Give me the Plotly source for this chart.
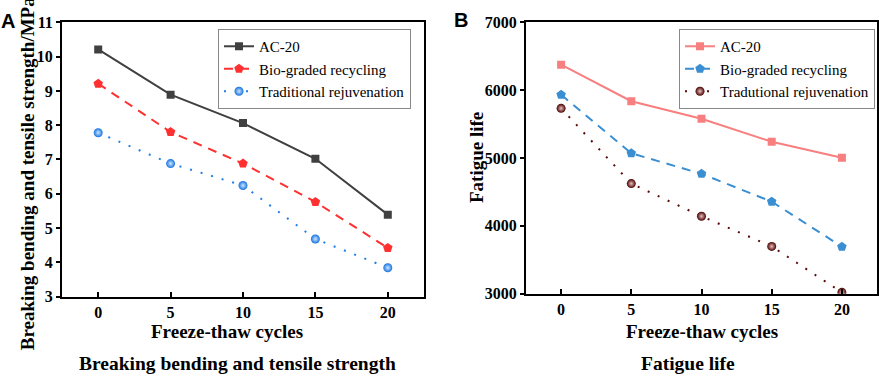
import plotly.graph_objects as go

cycles = [0, 5, 10, 15, 20]
series_names_a = ["AC-20", "Bio-graded recycling", "Traditional rejuvenation"]
series_names_b = ["AC-20", "Bio-graded recycling", "Tradutional rejuvenation"]

strength_ac20 = [10.21, 8.89, 8.06, 7.02, 5.39]
strength_bio = [9.21, 7.80, 6.88, 5.76, 4.42]
strength_trad = [7.78, 6.88, 6.24, 4.68, 3.84]

fatigue_ac20 = [6375, 5837, 5578, 5240, 5003]
fatigue_bio = [5932, 5070, 4767, 4357, 3693]
fatigue_trad = [5732, 4623, 4142, 3697, 3020]

x_ticks = [0, 5, 10, 15, 20]
y_ticks_a = [3, 4, 5, 6, 7, 8, 9, 10, 11]
y_ticks_b = [3000, 4000, 5000, 6000, 7000]

W, H = 879, 382
def px(x):
    return x / W
def py(y):
    return 1 - y / H

SERIF = "Liberation Serif, Times New Roman, serif"
fig = go.Figure()

# Panel A
fig.add_trace(go.Scatter(x=cycles, y=strength_ac20, name=series_names_a[0], mode="lines+markers",
                         line=dict(color="#404040", width=2),
                         marker=dict(symbol="square", size=8, color="#404040"),
                         xaxis="x", yaxis="y", legend="legend"))
fig.add_trace(go.Scatter(x=cycles, y=strength_bio, name=series_names_a[1], mode="lines+markers",
                         line=dict(color="#ff3030", width=2, dash="9px,7px"),
                         marker=dict(symbol="pentagon", size=10, color="#ff3030"),
                         xaxis="x", yaxis="y", legend="legend"))
fig.add_trace(go.Scatter(x=cycles, y=strength_trad, name=series_names_a[2], mode="lines+markers",
                         line=dict(color="#1f7fe8", width=2, dash="2px,9px"),
                         marker=dict(symbol="circle", size=9, color="#1572e0",
                                     gradient=dict(type="radial", color="#cfe6ff")),
                         xaxis="x", yaxis="y", legend="legend"))

# Panel B
fig.add_trace(go.Scatter(x=cycles, y=fatigue_ac20, name=series_names_b[0], mode="lines+markers",
                         line=dict(color="#f87f7f", width=2),
                         marker=dict(symbol="square", size=8, color="#f87f7f"),
                         xaxis="x2", yaxis="y2", legend="legend2"))
fig.add_trace(go.Scatter(x=cycles, y=fatigue_bio, name=series_names_b[1], mode="lines+markers",
                         line=dict(color="#3a8ed2", width=2, dash="9px,7px"),
                         marker=dict(symbol="pentagon", size=10, color="#3a8ed2"),
                         xaxis="x2", yaxis="y2", legend="legend2"))
fig.add_trace(go.Scatter(x=cycles, y=fatigue_trad, name=series_names_b[2], mode="lines+markers",
                         line=dict(color="#5a0a0a", width=2, dash="2px,9px"),
                         marker=dict(symbol="circle", size=9, color="#4a0000",
                                     gradient=dict(type="radial", color="#e8c0c0")),
                         xaxis="x2", yaxis="y2", legend="legend2"))

tickfont = dict(family=SERIF, size=16, color="black")
xcommon = dict(range=[-2.5, 22.5], tickvals=x_ticks, ticktext=[f"<b>{v}</b>" for v in x_ticks],
               ticks="inside", ticklen=5, tickwidth=2,
               tickcolor="black", showline=True, linecolor="black", linewidth=2, mirror=True,
               showgrid=False, zeroline=False, tickfont=tickfont)
ycommon = dict(ticks="outside", ticklen=4, tickwidth=2, tickcolor="black", showline=True,
               linecolor="black", linewidth=2, mirror=True, showgrid=False, zeroline=False,
               tickfont=tickfont)

legcommon = dict(bgcolor="white", bordercolor="#888888", borderwidth=1,
                 font=dict(family=SERIF, size=15, color="black"),
                 xanchor="left", yanchor="top", tracegroupgap=0, itemwidth=30)

fig.update_layout(
    width=W, height=H, autosize=False,
    font=dict(family=SERIF, color="black"),
    margin=dict(l=0, r=0, t=0, b=0),
    paper_bgcolor="white", plot_bgcolor="white",
    xaxis=dict(domain=[px(62), px(424)], anchor="y", **xcommon),
    yaxis=dict(domain=[py(302), py(15)], anchor="x", range=[3, 11],
               tickvals=y_ticks_a, ticktext=[f"<b>{v}</b>" for v in y_ticks_a], **ycommon),
    xaxis2=dict(domain=[px(526), px(877)], anchor="y2", **xcommon),
    yaxis2=dict(domain=[py(299), py(15)], anchor="x2", range=[3000, 7000],
                tickvals=y_ticks_b, ticktext=[f"<b>{v}</b>" for v in y_ticks_b], **ycommon),
    legend=dict(x=px(218), y=py(22), **legcommon),
    legend2=dict(x=px(679), y=py(22), **legcommon),
)

annotations = [
    dict(text="<b>Breaking bending and tensile strength/MPa</b>", x=px(27), y=py(174), textangle=-90, size=19),
    dict(text="<b>Freeze-thaw cycles</b>", x=px(227), y=py(339), size=19),
    dict(text="<b>Breaking bending and tensile strength</b>", x=px(237), y=py(372), size=19.5),
    dict(text="<b>Fatigue life</b>", x=px(476), y=py(157), textangle=-90, size=19),
    dict(text="<b>Freeze-thaw cycles</b>", x=px(702), y=py(339), size=19),
    dict(text="<b>Fatigue life</b>", x=px(688), y=py(372), size=19.5),
]
for a in annotations:
    size = a.pop("size")
    fig.add_annotation(xref="paper", yref="paper", showarrow=False, xanchor="center",
                       yanchor="middle", font=dict(family=SERIF, size=size, color="black"), **a)

panel_font = dict(family="Liberation Sans, Arial, sans-serif", size=20, color="black")
fig.add_annotation(text="<b>A</b>", x=px(8), y=py(14), xref="paper", yref="paper", showarrow=False,
                   xanchor="center", yanchor="middle", font=panel_font)
fig.add_annotation(text="<b>B</b>", x=px(461), y=py(13), xref="paper", yref="paper", showarrow=False,
                   xanchor="center", yanchor="middle", font=panel_font)

fig.write_html("out.html", config={"displayModeBar": False},
               post_script="document.body.style.margin='0';document.documentElement.style.overflow='hidden';")
